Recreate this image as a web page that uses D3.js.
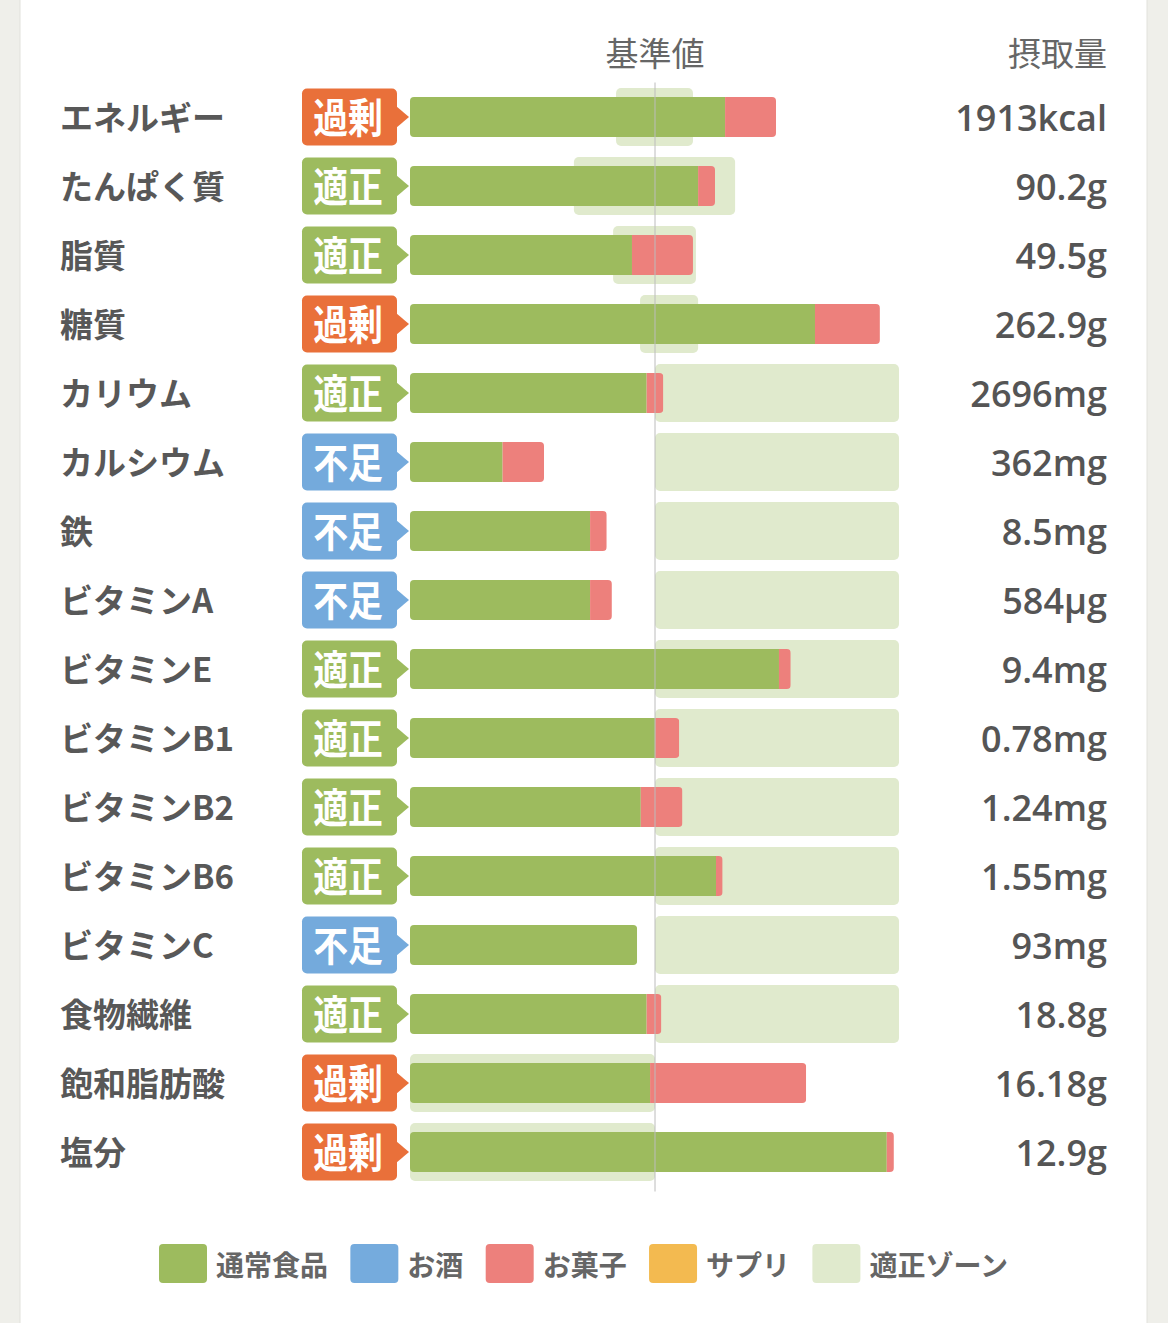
<!DOCTYPE html>
<html>
<head>
<meta charset="utf-8">
<script src="https://cdn.jsdelivr.net/npm/d3@7"></script>
<style>
  html, body { margin: 0; padding: 0; background: #efefea; }
  svg { display: block; }
</style>
</head>
<body>
<svg id="chart" width="1168" height="1323"></svg>
<script>
// ---- data ----
const nutrients = ["エネルギー","たんぱく質","脂質","糖質","カリウム","カルシウム","鉄","ビタミンA","ビタミンE","ビタミンB1","ビタミンB2","ビタミンB6","ビタミンC","食物繊維","飽和脂肪酸","塩分"];
const status = ["過剰","適正","適正","過剰","適正","不足","不足","不足","適正","適正","適正","適正","不足","適正","過剰","過剰"];
// percent of the standard value (基準値 = 100)
const foodVals    = [128.6,117.6,90.6,165.3,96.6,37.8,73.5,73.5,150.6,100.1,94.2,124.9,92.7,96.6,98.0,194.6];
const alcoholVals = [0,0,0,0,0,0,0,0,0,0,0,0,0,0,0,0];
const snackVals   = [20.8,6.9,24.9,26.5,6.8,16.9,6.8,8.9,4.8,9.8,17.0,2.7,0,6.0,63.7,2.9];
const supplVals   = [0,0,0,0,0,0,0,0,0,0,0,0,0,0,0,0];
const zoneLo = [84.1,66.9,82.9,93.9,100,100,100,100,100,100,100,100,100,100,0,0];
const zoneHi = [115.5,132.7,116.7,117.6,199.6,199.6,199.6,199.6,199.6,199.6,199.6,199.6,199.6,199.6,100,100];
const intake = ["1913kcal","90.2g","49.5g","262.9g","2696mg","362mg","8.5mg","584µg","9.4mg","0.78mg","1.24mg","1.55mg","93mg","18.8g","16.18g","12.9g"];
const seriesKeys = ["通常食品","お酒","お菓子","サプリ"];
const legendLabels = ["通常食品","お酒","お菓子","サプリ","適正ゾーン"];
const refLabel = "基準値";
const intakeHeader = "摂取量";

// ---- styles ----
const seriesColor = {"通常食品":"#9dbb5e","お酒":"#75abdd","お菓子":"#ed807c","サプリ":"#f3ba50"};
const zoneColor = "#e0eacd";
const badgeColor = {"過剰":"#e9703a","適正":"#9dbb5e","不足":"#74aadc"};
const jp = "'Noto Sans CJK JP', 'Noto Sans', sans-serif";
const latin = "'Open Sans', 'Noto Sans CJK JP', sans-serif";

const svg = d3.select("#chart");

// card
svg.append("rect").attr("x",20).attr("y",-2).attr("width",1127).attr("height",1330)
  .attr("fill","#fff").attr("stroke","#e2e2dc").attr("stroke-width",1);

const x = d3.scaleLinear().domain([0,200]).range([410,900]);
const y = d3.scaleBand().domain(nutrients).range([82.5, 82.5 + 69*nutrients.length]);
const barH = 40, zoneH = 58;
const cy = d => y(d) + y.bandwidth()/2;

const rows = nutrients.map((n,i) => ({
  name:n, status:status[i], lo:zoneLo[i], hi:zoneHi[i], intake:intake[i],
  "通常食品":foodVals[i], "お酒":alcoholVals[i], "お菓子":snackVals[i], "サプリ":supplVals[i]
}));

// headers
svg.append("text").attr("x", x(100)).attr("y", 66).attr("text-anchor","middle")
  .attr("font-family", jp).attr("font-size", 33).attr("fill","#666").text(refLabel);
svg.append("text").attr("x", 1107).attr("y", 66).attr("text-anchor","end")
  .attr("font-family", jp).attr("font-size", 33).attr("fill","#666").text(intakeHeader);

// zones
svg.append("g").selectAll("rect").data(rows).join("rect")
  .attr("x", d => x(d.lo)).attr("width", d => x(d.hi) - x(d.lo))
  .attr("y", d => cy(d.name) - zoneH/2).attr("height", zoneH)
  .attr("rx", 5).attr("fill", zoneColor);

// bars (stacked, clipped to a rounded total)
const stack = d3.stack().keys(seriesKeys)(rows);
const defs = svg.append("defs");
rows.forEach((d,i) => {
  const total = seriesKeys.reduce((s,k) => s + d[k], 0);
  defs.append("clipPath").attr("id","clip"+i).append("rect")
    .attr("x", x(0)).attr("width", x(total) - x(0))
    .attr("y", cy(d.name) - barH/2).attr("height", barH).attr("rx", 4);
});
const barG = svg.append("g");
stack.forEach(layer => {
  barG.append("g").attr("fill", seriesColor[layer.key])
    .selectAll("rect").data(layer).join("rect")
    .attr("clip-path", (d,i) => "url(#clip"+i+")")
    .attr("x", d => x(d[0])).attr("width", d => Math.max(0, x(d[1]) - x(d[0])))
    .attr("y", d => cy(d.data.name) - barH/2).attr("height", barH);
});

// reference line
svg.append("line").attr("x1", x(100)).attr("x2", x(100))
  .attr("y1", y.range()[0]).attr("y2", y.range()[1] + 5)
  .attr("stroke","#bcbcbc").attr("stroke-width",1);

// labels
svg.append("g").selectAll("text").data(rows).join("text")
  .attr("x", 60).attr("y", d => cy(d.name) + 13)
  .attr("font-family", jp).attr("font-weight", 700).attr("font-size", 33)
  .attr("fill","#585858").text(d => d.name);

// badges
const badge = svg.append("g").selectAll("g").data(rows).join("g")
  .attr("transform", d => `translate(0,${cy(d.name)})`);
badge.append("rect").attr("x",302).attr("y",-28.5).attr("width",95).attr("height",57)
  .attr("rx",5).attr("fill", d => badgeColor[d.status]);
badge.append("path").attr("d","M396,-11L409,0L396,11Z").attr("fill", d => badgeColor[d.status]);
badge.append("text").attr("transform","translate(348,-2) scale(0.85,1)")
  .attr("text-anchor","middle").attr("dominant-baseline","central")
  .attr("font-family", jp).attr("font-weight",700).attr("font-size",41)
  .attr("fill","#fff").text(d => d.status);

// intake values
svg.append("g").selectAll("text").data(rows).join("text")
  .attr("x", 1107).attr("y", d => cy(d.name) + 14).attr("text-anchor","end")
  .attr("font-family", latin).attr("font-weight", 600).attr("font-size", 36)
  .attr("fill","#555").text(d => d.intake);

// legend
const legColors = seriesKeys.map(k => seriesColor[k]).concat([zoneColor]);
const leg = svg.append("g");
const items = legendLabels.map((t,i) => {
  const g = leg.append("g");
  g.append("rect").attr("width",48).attr("height",39).attr("rx",4).attr("y",1244).attr("fill", legColors[i]);
  const tx = g.append("text").attr("x",57).attr("y",1264).attr("dominant-baseline","central")
    .attr("font-family", jp).attr("font-weight",700).attr("font-size",28).attr("fill","#666").text(t);
  return {g, w: 57 + tx.node().getComputedTextLength()};
});
const legStart = 159, legEnd = 1008;
const sumW = items.reduce((s,it) => s + it.w, 0);
const gap = (legEnd - legStart - sumW) / (items.length - 1);
let cx = legStart;
items.forEach(it => { it.g.attr("transform", `translate(${cx},0)`); cx += it.w + gap; });
</script>
</body>
</html>
